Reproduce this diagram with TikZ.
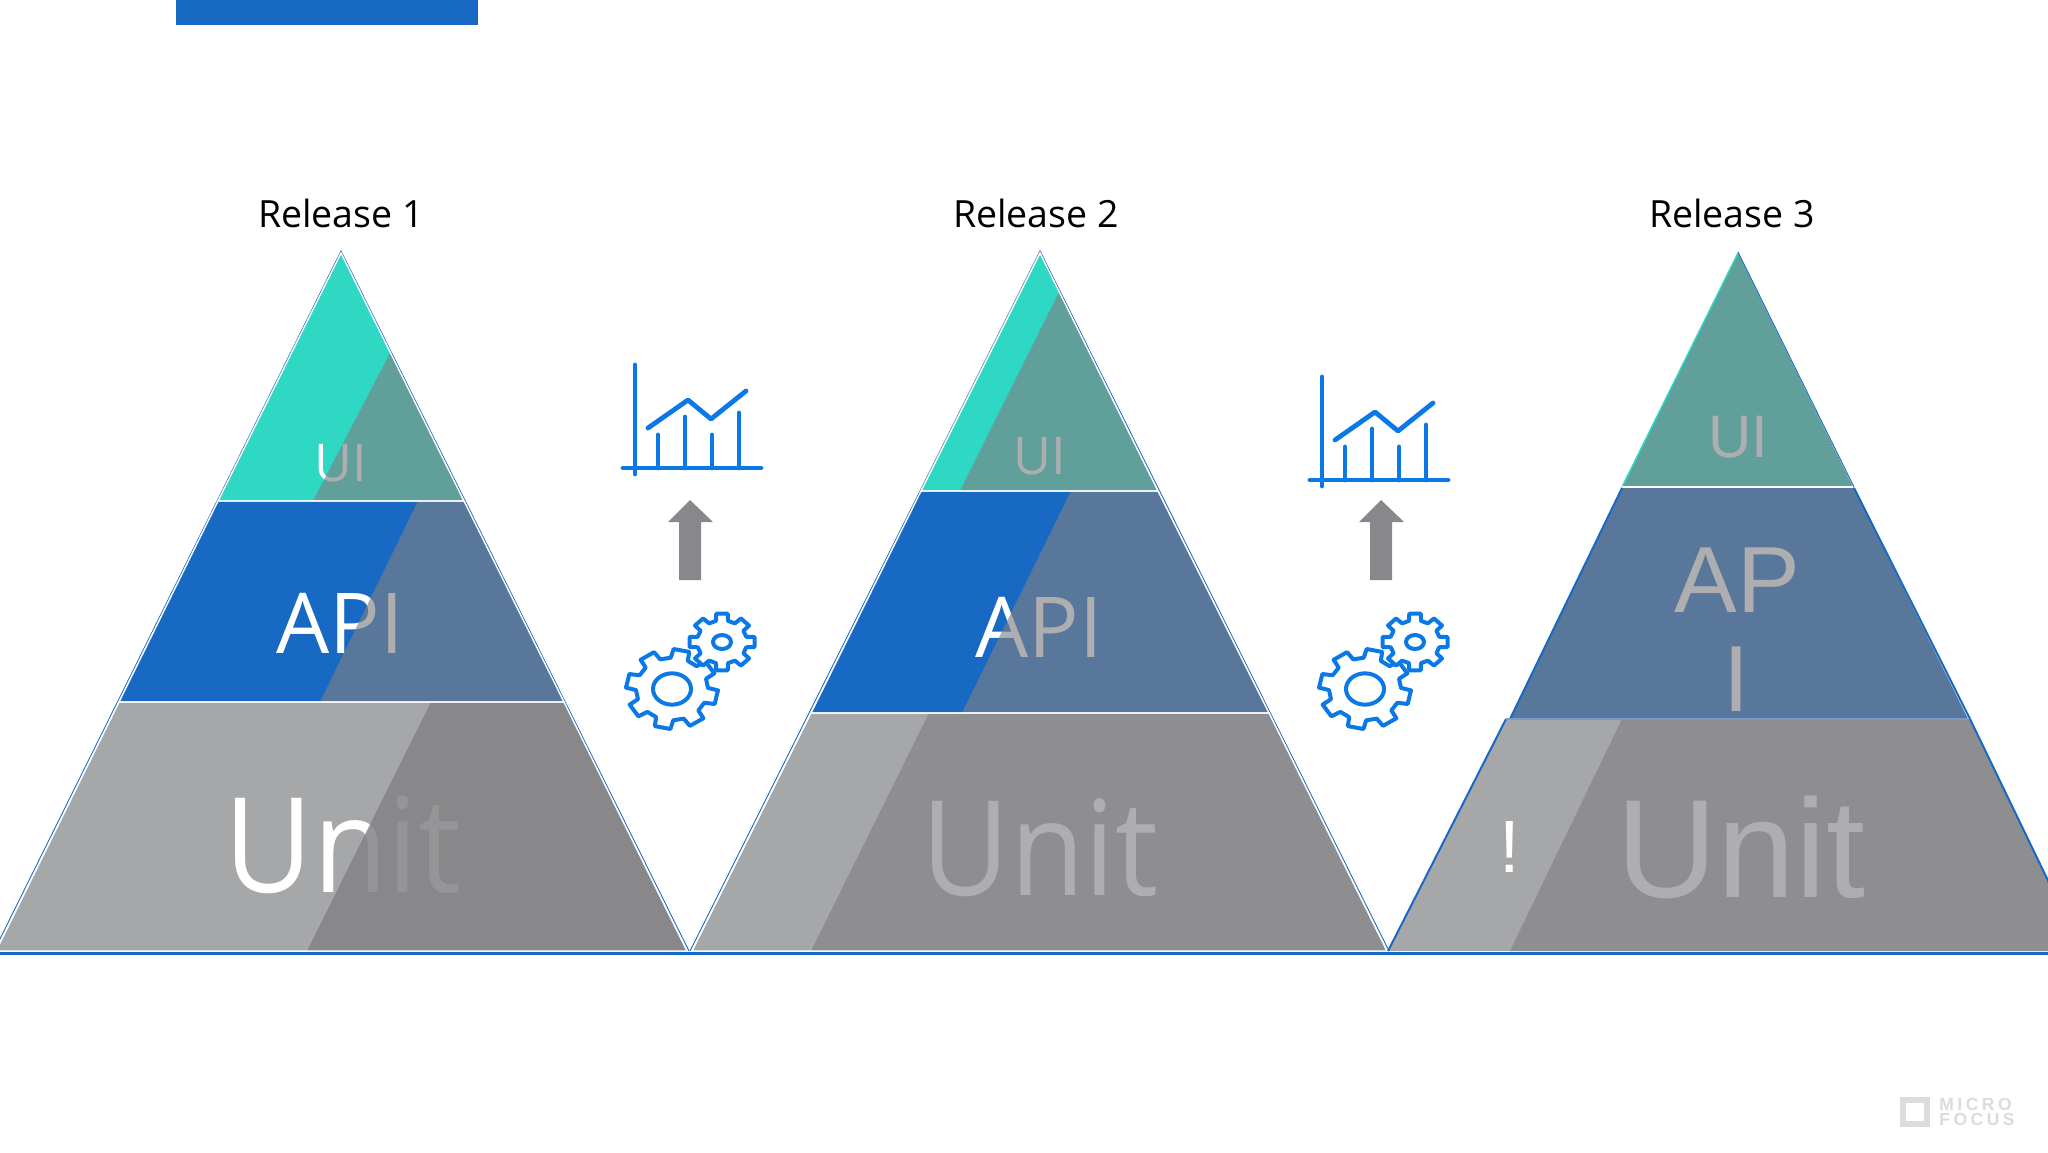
\documentclass[tikz,border=0pt]{standalone}
\usepackage{fontspec}
\setmainfont{Open Sans}
\newfontfamily\narrowfont[FakeStretch=0.92]{Open Sans}
\newfontfamily\thirdfont{Liberation Sans}
\newfontfamily\logofont[LetterSpace=20]{Liberation Sans}

\definecolor{relblue}{RGB}{23,105,196}
\definecolor{relteal}{RGB}{46,216,195}
\definecolor{relgrey}{RGB}{166,167,169}
\definecolor{relshade}{RGB}{128,128,131}
\definecolor{iconblue}{RGB}{10,120,230}
\definecolor{arrowgrey}{RGB}{136,136,140}
\definecolor{logogrey}{RGB}{220,220,220}
\definecolor{paleblue}{RGB}{120,155,205}

\tikzset{
  layer/.style={draw=white,line width=1.4pt},
  shade/.style={fill=relshade,fill opacity=0.63},
  deepshade/.style={fill=relshade!98!white,fill opacity=0.85},
  edge/.style={draw=relblue,line width=0.9pt},
  rimedge/.style={draw=relblue,line width=2pt},
  relname/.style={text=black,font=\fontsize{37.5}{40}\selectfont},
  label/.style={text=white,inner sep=0pt,align=center},
  icon/.style={draw=iconblue,line width=4.8pt,line cap=round,line join=round},
  gearline/.style={draw=iconblue,fill=white,line width=4pt,line join=round},
}

% one gear: x, y, base radius, tip radius, hole x and y radius, turn
\newcommand{\gearicon}[7]{
  \begin{scope}[shift={(#1,#2)},yscale=0.87]
    \draw[gearline] ({#7-14}:#3) \foreach \k in {0,...,7} {
      -- ({#7+\k*45-14}:#3) -- ({#7+\k*45-10}:#4) -- ({#7+\k*45+10}:#4) -- ({#7+\k*45+14}:#3)
    } -- cycle;
    \draw[gearline] (0,0) ellipse ({#5} and {#6});
  \end{scope}
}

% chart icon, moved by x and y
\newcommand{\charticon}[2]{
  \begin{scope}[shift={(#1,#2)}]
    \draw[icon] (635,365) -- (635,474);
    \draw[icon] (623,468) -- (761,468);
    \draw[icon] (658,435) -- (658,468);
    \draw[icon] (685,417) -- (685,468);
    \draw[icon] (712,435) -- (712,468);
    \draw[icon] (739,413) -- (739,468);
    \draw[icon] (648,428) -- (688,400) -- (711,419) -- (746,391);
  \end{scope}
}

\newcommand{\greyarrow}[1]{
  \fill[arrowgrey,shift={(#1,0)}] (690,500) -- (713,522) -- (701,522) -- (701,580) -- (679,580) -- (679,522) -- (668,522) -- cycle;
}

\begin{document}
\begin{tikzpicture}[x=1pt,y=-1pt]

\useasboundingbox (0,0) rectangle (2048,1152);
\fill[white] (0,0) rectangle (2048,1152);
\clip (0,0) rectangle (2048,1152);

\fill[relblue] (176,0) rectangle (478,25);

\node[relname] (release1) at (341,213) {Release 1};
\node[relname] (release2) at (1036,213) {Release 2};
\node[relname] (release3) at (1732,213) {Release 3};

% first pyramid
\fill[relteal] (341,253) -- (464,501) -- (218,501) -- cycle;
\fill[relblue] (218,501) -- (464,501) -- (564,702) -- (119,702) -- cycle;
\fill[relgrey] (119,702) -- (564,702) -- (687,951) -- (-4,951) -- cycle;

\node[label,font=\fontsize{52}{52}\selectfont] (ui1) at (341,463) {UI};
\node[label,font=\fontsize{84}{84}\selectfont] (api1) at (340,623) {API};
\node[label,font=\narrowfont\fontsize{132}{132}\selectfont] (unit1) at (343,845) {Unit};

\fill[shade] (390,353) -- (464,501) -- (313,501) -- cycle;
\fill[shade] (418,501) -- (464,501) -- (564,702) -- (320,702) -- cycle;
\fill[deepshade] (431,702) -- (564,702) -- (687,951) -- (307,951) -- cycle;

\draw[edge] (-6,951) -- (341,251) -- (689,951);
\draw[layer] (341,253) -- (464,501) -- (218,501) -- cycle;
\draw[layer] (218,501) -- (464,501) -- (564,702) -- (119,702) -- cycle;
\draw[layer] (119,702) -- (564,702) -- (687,951) -- (-4,951) -- cycle;

% second pyramid
\fill[relteal] (1040,253) -- (1158,491) -- (921,491) -- cycle;
\fill[relblue] (921,491) -- (1158,491) -- (1269,713) -- (811,713) -- cycle;
\fill[relgrey] (811,713) -- (1269,713) -- (1387,951) -- (692,951) -- cycle;

\node[label,font=\fontsize{52}{52}\selectfont] (ui2) at (1040,456) {UI};
\node[label,font=\fontsize{84}{84}\selectfont] (api2) at (1039,627) {API};
\node[label,font=\narrowfont\fontsize{132}{132}\selectfont] (unit2) at (1040,848) {Unit};

\fill[shade] (1059,292) -- (1158,491) -- (960,491) -- cycle;
\fill[shade] (1071,491) -- (1158,491) -- (1269,713) -- (962,713) -- cycle;
\fill[shade] (929,713) -- (1269,713) -- (1387,951) -- (811,951) -- cycle;

\draw[edge] (690,951) -- (1040,251) -- (1389,951);
\draw[layer] (1040,253) -- (1158,491) -- (921,491) -- cycle;
\draw[layer] (921,491) -- (1158,491) -- (1269,713) -- (811,713) -- cycle;
\draw[layer] (811,713) -- (1269,713) -- (1387,951) -- (692,951) -- cycle;

% third pyramid
\fill[relteal] (1738,253) -- (1853,487) -- (1622,487) -- cycle;
\fill[relblue] (1622,487) -- (1853,487) -- (1968,719) -- (1510,719) -- cycle;
\fill[relgrey] (1506,719) -- (1970,719) -- (2082,951) -- (1388,951) -- cycle;

\node[label,font=\thirdfont\fontsize{60}{60}\selectfont] (ui3) at (1738,437) {UI};
\node[label,font=\thirdfont\fontsize{94}{99}\selectfont] (api3) at (1737,630) {AP\\I};
\node[label,font=\thirdfont\fontsize{140}{140}\selectfont] (unit3) at (1741,847) {Unit};
\node[label,font=\thirdfont\fontsize{74}{74}\selectfont] (mark3) at (1510,847) {!};

\fill[shade] (1738,253) -- (1853,487) -- (1622,487) -- cycle;
\fill[shade] (1622,487) -- (1853,487) -- (1968,719) -- (1510,719) -- cycle;
\fill[shade] (1622,719) -- (1970,719) -- (2082,951) -- (1510,951) -- cycle;

\draw[relteal,line width=1.4pt] (1622,487) -- (1738,253);
\draw[edge] (1738,252) -- (1854,487);
\draw[white,line width=2.4pt] (1622,487) -- (1853,487);
\draw[rimedge] (1854,488) -- (1970,719) -- (2082,951);
\draw[rimedge] (1388,951) -- (1506,719);
\draw[rimedge] (1622,488) -- (1510,719);
\draw[paleblue,line width=1.6pt] (1506,719) -- (1968,719);

\draw[relblue,line width=3pt] (0,953) -- (2048,953);

% tools between the pyramids
\charticon{0}{0}
\greyarrow{0}
\gearicon{672}{689}{36}{46}{19}{18}{12}
\gearicon{722}{642}{25}{33}{9}{8}{0}

\charticon{687}{12}
\greyarrow{691}
\gearicon{1365}{689}{36}{46}{19}{18}{12}
\gearicon{1415}{642}{25}{33}{9}{8}{0}

% logo, bottom right
\draw[logogrey,line width=6pt] (1903,1100) rectangle (1927,1124);
\node[text=logogrey,inner sep=0pt,align=left,font=\logofont\bfseries\fontsize{17.5}{15}\selectfont] (logo) at (1977,1112) {MICRO\\FOCUS};

\end{tikzpicture}
\end{document}
